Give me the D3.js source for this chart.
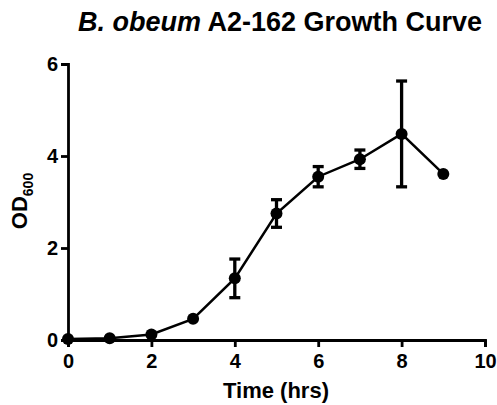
<!DOCTYPE html>
<meta charset="utf-8">
<html>
<head>
<style>
body { margin: 0; background: #fff; }
.axis path, .axis line { stroke: #000; stroke-width: 2.8px; fill: none; }
.label { font: bold 22px "Liberation Sans", Arial, sans-serif; fill: #000; }
</style>
</head>
<body>
<svg id="chart" width="497" height="405"></svg>
<script src="https://d3js.org/d3.v7.min.js"></script>
<script>
// growth curve data
var hours = [0, 1, 2, 3, 4, 5, 6, 7, 8, 9];
var od600 = [0.02, 0.04, 0.12, 0.46, 1.34, 2.75, 3.55, 3.93, 4.48, 3.61];
var odErr = [0, 0, 0, 0, 0.42, 0.3, 0.22, 0.2, 1.15, 0];
var xTicks = [0, 2, 4, 6, 8, 10];
var yTicks = [0, 2, 4, 6];

var svg = d3.select("#chart");

var x = d3.scaleLinear().domain([0, 10]).range([68, 485]);
var y = d3.scaleLinear().domain([0, 6]).range([340, 64]);

// title
var title = svg.append("text")
    .attr("class", "label")
    .attr("x", 280)
    .attr("y", 31)
    .style("text-anchor", "middle")
    .style("font-size", "27px");
title.append("tspan").style("font-style", "italic").text("B. obeum");
title.append("tspan").text(" A2-162 Growth Curve");

// axes
var xAxis = svg.append("g")
    .attr("class", "axis")
    .attr("transform", "translate(0," + y(0) + ")")
    .call(d3.axisBottom(x).tickValues(xTicks).tickSize(7).tickSizeOuter(7).tickPadding(7).tickFormat(d3.format("d")));

var yAxis = svg.append("g")
    .attr("class", "axis")
    .attr("transform", "translate(" + x(0) + ",0)")
    .call(d3.axisLeft(y).tickValues(yTicks).tickSize(7).tickSizeOuter(7).tickPadding(3).tickFormat(d3.format("d")));

[xAxis, yAxis].forEach(function(a) {
  a.attr("font-size", null).attr("font-family", null);
  a.selectAll("text")
    .style("font-family", "'Liberation Sans', Arial, sans-serif")
    .style("font-weight", "bold")
    .style("font-size", "20px")
    .style("fill", "#000");
});

// axis labels
svg.append("text")
    .attr("class", "label")
    .attr("x", 276)
    .attr("y", 398)
    .style("text-anchor", "middle")
    .text("Time (hrs)");

var yl = svg.append("text")
    .attr("class", "label")
    .attr("transform", "translate(27,201) rotate(-90)")
    .style("text-anchor", "middle");
yl.append("tspan").text("OD");
yl.append("tspan").attr("dy", 6).style("font-size", "14px").text("600");

var data = hours.map(function(h, i) { return {h: h, v: od600[i], e: odErr[i]}; });

// error bars
var eb = svg.append("g").selectAll("g")
    .data(data.filter(function(d) { return d.e > 0; }))
    .enter().append("g")
    .attr("stroke", "#000")
    .attr("stroke-width", 3.3);
eb.append("line")
    .attr("x1", function(d) { return x(d.h); })
    .attr("x2", function(d) { return x(d.h); })
    .attr("y1", function(d) { return y(d.v + d.e); })
    .attr("y2", function(d) { return y(d.v - d.e); });
eb.append("line")
    .attr("x1", function(d) { return x(d.h) - 5.5; })
    .attr("x2", function(d) { return x(d.h) + 5.5; })
    .attr("y1", function(d) { return y(d.v + d.e); })
    .attr("y2", function(d) { return y(d.v + d.e); });
eb.append("line")
    .attr("x1", function(d) { return x(d.h) - 5.5; })
    .attr("x2", function(d) { return x(d.h) + 5.5; })
    .attr("y1", function(d) { return y(d.v - d.e); })
    .attr("y2", function(d) { return y(d.v - d.e); });

// line
svg.append("path")
    .datum(data)
    .attr("fill", "none")
    .attr("stroke", "#000")
    .attr("stroke-width", 2.5)
    .attr("d", d3.line().x(function(d) { return x(d.h); }).y(function(d) { return y(d.v); }));

// dots
svg.append("g").selectAll("circle")
    .data(data)
    .enter().append("circle")
    .attr("cx", function(d) { return x(d.h); })
    .attr("cy", function(d) { return y(d.v); })
    .attr("r", 6)
    .attr("fill", "#000");
</script>
</body>
</html>
